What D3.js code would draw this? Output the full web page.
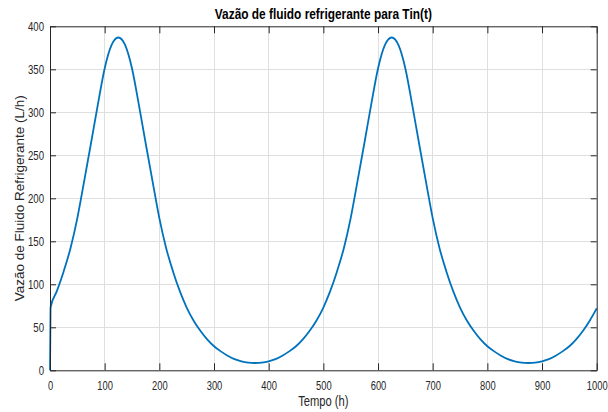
<!DOCTYPE html>
<html>
<head>
<meta charset="utf-8">
<script src="https://cdn.jsdelivr.net/npm/d3@7"></script>
<style>
  html, body { margin: 0; padding: 0; background: #fff; }
  svg { display: block; font-family: "Liberation Sans", Arial, Helvetica, sans-serif; }
</style>
</head>
<body>
<svg id="chart" width="608" height="412"></svg>
<script>
// Time samples (h) and coolant flow (L/h) along the run
const tHours = [0, 1, 12.5, 25, 37.5, 50, 62.5, 75, 87.5, 100, 112.5, 125, 137.5, 150, 162.5, 175, 187.5, 200, 212.5, 225, 237.5,
                250, 262.5, 275, 287.5, 300, 312.5, 325, 337.5, 350, 362.5, 375, 387.5, 400, 412.5, 425, 437.5, 450, 462.5, 475, 487.5,
                500, 512.5, 525, 537.5, 550, 562.5, 575, 587.5, 600, 612.5, 625, 637.5, 650, 662.5, 675, 687.5, 700, 712.5, 725, 737.5,
                750, 762.5, 775, 787.5, 800, 812.5, 825, 837.5, 850, 862.5, 875, 887.5, 900, 912.5, 925, 937.5, 950, 962.5, 975, 987.5, 1000];
const flow   = [0, 73, 92, 115, 142, 177, 220, 264, 309, 351, 378, 387, 378, 351, 309, 264, 220, 177, 142, 115, 92,
                73, 58, 46, 36, 28, 22, 17, 13, 10.5, 9, 8.5, 9, 10.5, 13, 17, 22, 28, 36, 46, 58,
                73, 92, 115, 142, 177, 220, 264, 309, 351, 378, 387, 378, 351, 309, 264, 220, 177, 142, 115, 92,
                73, 58, 46, 36, 28, 22, 17, 13, 10.5, 9, 8.5, 9, 10.5, 13, 17, 22, 28, 36, 46, 58, 72];

const xTicks = [0, 100, 200, 300, 400, 500, 600, 700, 800, 900, 1000];
const yTicks = [0, 50, 100, 150, 200, 250, 300, 350, 400];

const titleText = "Vazão de fluido refrigerante para Tin(t)";
const xLabel = "Tempo (h)";
const yLabel = "Vazão de Fluido Refrigerante (L/h)";

const W = 608, H = 412;
const margin = { left: 50, right: 11.3, top: 26.3, bottom: 41.7 };
const iw = W - margin.left - margin.right;
const ih = H - margin.top - margin.bottom;

const ink = "#262626";
const lineColor = "#0072BD";

const svg = d3.select("#chart");
const g = svg.append("g").attr("transform", `translate(${margin.left},${margin.top})`);

const x = d3.scaleLinear().domain([0, 1000]).range([0, iw]);
const y = d3.scaleLinear().domain([0, 400]).range([ih, 0]);

// Squeeze text horizontally to the narrow Helvetica-like look
function squeeze(sel, ratio) {
  sel.each(function () {
    const len = this.getComputedTextLength();
    d3.select(this).attr("textLength", len * ratio).attr("lengthAdjust", "spacingAndGlyphs");
  });
}

// grid
g.append("g").selectAll("line").data(xTicks.slice(1, -1)).join("line")
  .attr("x1", d => x(d)).attr("x2", d => x(d)).attr("y1", 0).attr("y2", ih)
  .attr("stroke", "#dfdfdf").attr("stroke-width", 1).attr("shape-rendering", "crispEdges");
g.append("g").selectAll("line").data(yTicks.slice(1, -1)).join("line")
  .attr("y1", d => y(d)).attr("y2", d => y(d)).attr("x1", 0).attr("x2", iw)
  .attr("stroke", "#dfdfdf").attr("stroke-width", 1).attr("shape-rendering", "crispEdges");

// data line
const line = d3.line().x((d, i) => x(tHours[i])).y(d => y(d)).curve(d3.curveMonotoneX);
g.append("path").datum(flow)
  .attr("d", line)
  .attr("fill", "none")
  .attr("stroke", lineColor)
  .attr("stroke-width", 1.8)
  .attr("stroke-linejoin", "round");

// axes (inward ticks on all four sides)
function styleAxis(sel) {
  sel.select(".domain").attr("stroke", ink).attr("stroke-width", 1);
  sel.selectAll(".tick line").attr("stroke", ink).attr("stroke-width", 1);
  sel.selectAll(".tick text").attr("fill", ink).attr("font-size", 13);
}

const xb = g.append("g").attr("transform", `translate(0,${ih})`)
  .call(d3.axisBottom(x).tickValues(xTicks).tickSize(-7).tickSizeOuter(0).tickPadding(10).tickFormat(d3.format("d")));
styleAxis(xb);
const xt = g.append("g")
  .call(d3.axisTop(x).tickValues(xTicks).tickSize(-7).tickSizeOuter(0).tickFormat(""));
styleAxis(xt);
const yl = g.append("g")
  .call(d3.axisLeft(y).tickValues(yTicks).tickSize(-6).tickSizeOuter(0).tickPadding(6).tickFormat(d3.format("d")));
styleAxis(yl);
const yr = g.append("g").attr("transform", `translate(${iw},0)`)
  .call(d3.axisRight(y).tickValues(yTicks).tickSize(-6).tickSizeOuter(0).tickFormat(""));
styleAxis(yr);

squeeze(xb.selectAll(".tick text"), 0.72);
squeeze(yl.selectAll(".tick text"), 0.74);

// title
svg.append("text")
  .attr("x", margin.left + iw / 2).attr("y", 19)
  .attr("text-anchor", "middle")
  .attr("font-size", 14).attr("font-weight", "bold").attr("fill", "#000")
  .attr("textLength", 217).attr("lengthAdjust", "spacingAndGlyphs")
  .text(titleText);

// x label
const xl = svg.append("text")
  .attr("x", margin.left + iw / 2).attr("y", 406)
  .attr("text-anchor", "middle")
  .attr("font-size", 14).attr("fill", ink)
  .text(xLabel);
squeeze(xl, 0.8);

// y label
svg.append("text")
  .attr("transform", `translate(24,${margin.top + ih / 2}) rotate(-90)`)
  .attr("text-anchor", "middle")
  .attr("font-size", 13.5).attr("fill", ink)
  .text(yLabel);
</script>
</body>
</html>
